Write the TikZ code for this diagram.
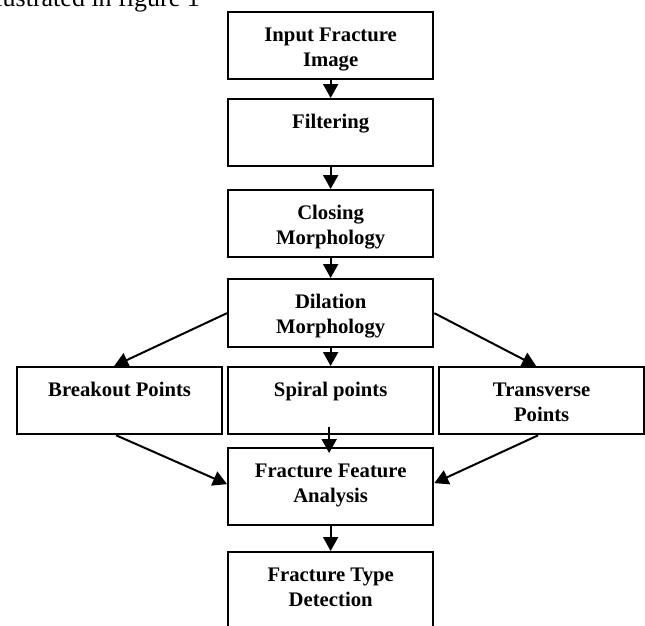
\documentclass[tikz,border=0pt]{standalone}
\usepackage{fontspec}
\setmainfont{Liberation Serif}
\usetikzlibrary{arrows.meta}
\begin{document}
\begin{tikzpicture}[x=1pt,y=-1pt,
  box/.style={draw, line width=2.3pt, minimum width=205pt, inner sep=0pt, anchor=north west},
  lbl/.style={anchor=north, inner sep=0pt, align=center, font=\fontsize{20.7}{25}\selectfont\bfseries},
  arr/.style={line width=2pt, -{Triangle[width=15pt,length=14pt]}}]
\useasboundingbox (0,0) rectangle (645,626);
\clip (0,0) rectangle (645,626);
% cut-off running text at the top
\node[anchor=base east, inner sep=0pt, font=\fontsize{26}{30}\selectfont] (intro) at (200,7) {illustrated in figure 1};
% boxes
\node[box, minimum height=67pt] (b1) at (227,11) {};
\node[box, minimum height=67pt] (flt) at (227,98) {};
\node[box, minimum height=67pt] (cls) at (227,189) {};
\node[box, minimum height=68pt] (dil) at (227,278) {};
\node[box, minimum height=67pt] (bo) at (16,366) {};
\node[box, minimum height=67pt] (sp) at (227,366) {};
\node[box, minimum height=67pt] (tr) at (438,366) {};
\node[box, minimum height=77pt] (ff) at (227,447) {};
\node[box, minimum height=100pt] (ft) at (227,551) {};
% texts
\node[lbl] (tb1) at ([yshift=-12.5pt]b1.north) {\strut Input Fracture\\Image};
\node[lbl] (tflt) at ([yshift=-12.5pt]flt.north) {\strut Filtering};
\begin{scope}
\clip (cls.north west) rectangle ([yshift=10pt]cls.south east);
\node[lbl] (tcls) at ([yshift=-12.5pt]cls.north) {\strut Closing\\Morphology};
\end{scope}
\begin{scope}
\clip (dil.north west) rectangle ([yshift=10pt]dil.south east);
\node[lbl] (tdil) at ([yshift=-13pt]dil.north) {\strut Dilation\\Morphology};
\end{scope}
\node[lbl] (tbo) at ([yshift=-12.5pt]bo.north) {\strut Breakout Points};
\node[lbl] (tsp) at ([yshift=-12.5pt]sp.north) {\strut Spiral points};
\node[lbl] (ttr) at ([yshift=-12.5pt]tr.north) {\strut Transverse\\Points};
\node[lbl] (tff) at ([yshift=-12.5pt]ff.north) {\strut Fracture Feature\\Analysis};
\node[lbl] (tft) at ([yshift=-12.5pt]ft.north) {\strut Fracture Type\\Detection};
% connectors
\draw[arr] (b1.south) -- (flt.north);
\draw[arr] (flt.south) -- (cls.north);
\draw[arr] (cls.south) -- (dil.north);
\draw[arr] (dil.west) -- ([xshift=-5.5pt]bo.north);
\draw[arr] (dil.south) -- (sp.north);
\draw[arr] (dil.east) -- ([xshift=-5.5pt]tr.north);
\draw[arr] ([xshift=-3.5pt]bo.south) -- ([yshift=2.5pt]ff.west);
\draw[arr] ([xshift=-1.5pt,yshift=8pt]sp.south) -- ([xshift=-1.5pt,yshift=-6pt]ff.north);
\draw[arr] ([xshift=-3.5pt]tr.south) -- ([yshift=3.5pt]ff.east);
\draw[arr] (ff.south) -- (ft.north);
\end{tikzpicture}
\end{document}
